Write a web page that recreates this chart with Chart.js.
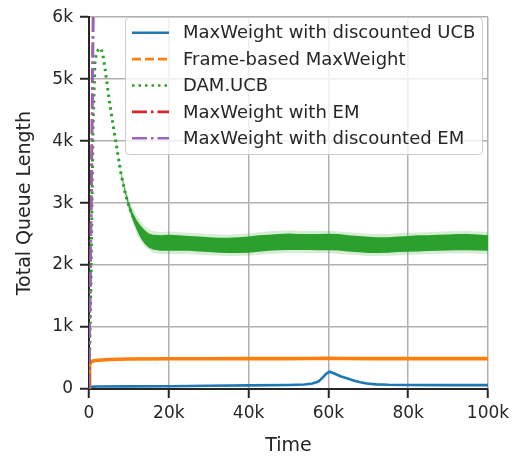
<!DOCTYPE html>
<html>
<head>
<meta charset="utf-8">
<script src="https://cdn.jsdelivr.net/npm/chart.js@4/dist/chart.umd.min.js"></script>
<style>
  html, body { margin: 0; padding: 0; background: #ffffff; }
  #wrap { width: 525px; height: 460px; }
</style>
</head>
<body>
<div id="wrap"><canvas id="chart" width="525" height="460"></canvas></div>
<script>
// ---- axis ticks ----
const xTickValues = [0, 20000, 40000, 60000, 80000, 100000];
const xTickLabels = ['0', '20k', '40k', '60k', '80k', '100k'];
const yTickValues = [0, 1000, 2000, 3000, 4000, 5000, 6000];
const yTickLabels = ['0', '1k', '2k', '3k', '4k', '5k', '6k'];

// ---- series names ----
const seriesNames = [
  'MaxWeight with discounted UCB',
  'Frame-based MaxWeight',
  'DAM.UCB',
  'MaxWeight with EM',
  'MaxWeight with discounted EM'
];

// ---- MaxWeight with discounted UCB ----
const ucbTime = [0, 300, 2000, 10000, 20000, 30000, 40000, 50000, 54000, 56000, 57500, 58500, 59500, 60300, 61500, 63000, 64600, 66500, 68000, 69600, 72000, 75000, 80000, 90000, 100000];
const ucbQueue = [0, 35, 40, 42, 45, 52, 58, 65, 72, 88, 120, 180, 250, 278, 250, 205, 172, 135, 108, 90, 75, 68, 64, 62, 62];

// ---- Frame-based MaxWeight ----
const frameTime = [0, 150, 400, 1500, 5000, 10000, 20000, 30000, 40000, 50000, 55000, 60000, 65000, 70000, 80000, 90000, 100000];
const frameQueue = [0, 380, 440, 460, 475, 485, 488, 487, 490, 490, 492, 495, 493, 490, 490, 490, 490];

// ---- DAM.UCB (mean) ----
const damTime = [0, 500, 1000, 1500, 2000, 2500, 3000, 3500, 4000, 5000, 6000, 7000, 8000, 9000, 10000, 11000, 12000, 13000, 14000, 16000, 18000, 20000, 25000, 30000, 35000, 40000, 45000, 50000, 55000, 60000, 65000, 70000, 75000, 80000, 85000, 90000, 95000, 100000];
const damQueue = [0, 1800, 4200, 5300, 5450, 5480, 5500, 5380, 5180, 4700, 4270, 3880, 3480, 3180, 2950, 2780, 2640, 2530, 2450, 2370, 2350, 2360, 2350, 2330, 2320, 2330, 2370, 2390, 2380, 2390, 2360, 2330, 2320, 2350, 2350, 2370, 2380, 2360];

// ---- DAM.UCB spread of the noisy trace ----
const damBandTime = [8000, 9000, 10000, 11000, 12000, 13000, 14000, 15000, 16000, 18000, 20000, 22500, 25000, 27500, 30000, 32500, 35000, 37500, 40000, 42500, 45000, 47500, 50000, 52500, 55000, 57500, 60000, 62500, 65000, 67500, 70000, 72500, 75000, 77500, 80000, 82500, 85000, 87500, 90000, 92500, 95000, 97500, 100000];
const damBandHigh = [3500, 3230, 3000, 2840, 2720, 2630, 2560, 2510, 2490, 2480, 2490, 2480, 2470, 2460, 2450, 2440, 2440, 2450, 2460, 2480, 2490, 2500, 2510, 2500, 2500, 2500, 2505, 2500, 2480, 2470, 2455, 2450, 2450, 2460, 2470, 2480, 2480, 2490, 2495, 2500, 2500, 2495, 2480];
const damBandLow = [3460, 3170, 2920, 2720, 2560, 2430, 2340, 2280, 2250, 2230, 2230, 2230, 2230, 2220, 2210, 2200, 2195, 2195, 2200, 2215, 2230, 2240, 2245, 2245, 2245, 2240, 2240, 2235, 2220, 2205, 2195, 2195, 2200, 2210, 2215, 2220, 2225, 2230, 2235, 2240, 2240, 2235, 2230];

// ---- DAM.UCB confidence interval ----
const damCiTime = [6000, 8000, 10000, 12000, 14000, 16000, 18000, 20000, 25000, 30000, 35000, 40000, 45000, 50000, 55000, 60000, 65000, 70000, 75000, 80000, 85000, 90000, 95000, 100000];
const damCiHigh = [4300, 3540, 3060, 2790, 2620, 2550, 2530, 2540, 2520, 2500, 2490, 2510, 2545, 2560, 2550, 2555, 2530, 2505, 2500, 2520, 2530, 2545, 2550, 2535];
const damCiLow = [4240, 3420, 2860, 2490, 2290, 2200, 2180, 2180, 2180, 2160, 2145, 2150, 2180, 2195, 2195, 2190, 2170, 2145, 2150, 2165, 2175, 2185, 2190, 2180];

// ---- MaxWeight with EM ----
const emTime = [0, 600, 1000, 1500];
const emQueue = [0, 3500, 6000, 8600];

// ---- MaxWeight with discounted EM ----
const demTime = [0, 700, 1100, 1500];
const demQueue = [0, 3500, 6000, 8200];

const colors = {
  blue: '#1f77b4', orange: '#ff7f0e', green: '#2ca02c', red: '#d62728', purple: '#9467bd'
};
const fontFamily = "'DejaVu Sans', 'Liberation Sans', sans-serif";
const textColor = '#262626';

const pts = (xs, ys) => xs.map((x, i) => ({ x: x, y: ys[i] }));

const lineStyles = [
  { color: colors.blue, dash: [] },
  { color: colors.orange, dash: [9, 4] },
  { color: colors.green, dash: [2.5, 4] },
  { color: colors.red, dash: [15, 4, 2.5, 4] },
  { color: colors.purple, dash: [15, 4, 2.5, 4] }
];

const datasets = [
  // confidence band of DAM.UCB (upper edge fills down to next dataset)
  { label: 'ciHigh', data: pts(damCiTime, damCiHigh), borderWidth: 0, pointRadius: 0,
    backgroundColor: 'rgba(44,160,44,0.2)', fill: '+1', order: 8 },
  { label: 'ciLow', data: pts(damCiTime, damCiLow), borderWidth: 0, pointRadius: 0, fill: false, order: 8 },
  // spread of the noisy DAM.UCB trace
  { label: 'bandHigh', data: pts(damBandTime, damBandHigh), borderWidth: 0, pointRadius: 0,
    backgroundColor: colors.green, fill: '+1', order: 7 },
  { label: 'bandLow', data: pts(damBandTime, damBandLow), borderWidth: 0, pointRadius: 0, fill: false, order: 7 },
  { label: seriesNames[2], data: pts(damTime, damQueue), borderColor: colors.green, borderWidth: 3,
    borderDash: [2.5, 4], borderCapStyle: 'butt', pointRadius: 0, fill: false, order: 6 },
  { label: seriesNames[0], data: pts(ucbTime, ucbQueue), borderColor: colors.blue, borderWidth: 2.6,
    pointRadius: 0, fill: false, order: 10 },
  { label: seriesNames[1], data: pts(frameTime, frameQueue), borderColor: colors.orange, borderWidth: 3.6,
    pointRadius: 0, fill: false, order: 9 },
  { label: seriesNames[3], data: pts(emTime, emQueue), borderColor: colors.red, borderWidth: 2.5,
    borderDash: [15, 4, 2.5, 4], pointRadius: 0, fill: false, order: 2 },
  { label: seriesNames[4], data: pts(demTime, demQueue), borderColor: colors.purple, borderWidth: 2.5,
    borderDash: [15, 4, 2.5, 4], pointRadius: 0, fill: false, order: 1 }
];

// Framed legend inside the plot area, top right
const boxLegend = {
  id: 'boxLegend',
  afterDraw(chart) {
    const ctx = chart.ctx;
    ctx.save();
    const bx = 125.5, by = 17.5, bw = 357, bh = 137;
    ctx.beginPath();
    ctx.roundRect(bx, by, bw, bh, 4);
    ctx.fillStyle = 'rgba(255,255,255,0.8)';
    ctx.fill();
    ctx.lineWidth = 1;
    ctx.strokeStyle = '#cccccc';
    ctx.stroke();
    ctx.font = '18px ' + fontFamily;
    ctx.textBaseline = 'middle';
    ctx.textAlign = 'left';
    seriesNames.forEach((name, i) => {
      const y = 32.7 + i * 26.4;
      const st = lineStyles[i];
      ctx.beginPath();
      ctx.setLineDash(st.dash);
      ctx.lineCap = 'butt';
      ctx.lineWidth = 2.6;
      ctx.strokeStyle = st.color;
      ctx.moveTo(132, y);
      ctx.lineTo(169, y);
      ctx.stroke();
      ctx.setLineDash([]);
      ctx.fillStyle = textColor;
      ctx.fillText(name, 183, y + 1);
    });
    ctx.restore();
  }
};

const gridColor = (c) => (c.tick && c.tick.value === 0) ? 'rgba(0,0,0,0)' : '#b0b0b0';

new Chart(document.getElementById('chart'), {
  type: 'line',
  data: { datasets: datasets },
  options: {
    responsive: false,
    animation: false,
    devicePixelRatio: 1,
    layout: { padding: { left: 0, top: 15, right: 37, bottom: 0 } },
    plugins: { legend: { display: false }, tooltip: { enabled: false } },
    elements: { line: { tension: 0 } },
    scales: {
      x: {
        type: 'linear', min: 0, max: 100000,
        afterBuildTicks: (s) => { s.ticks = xTickValues.map(v => ({ value: v })); },
        afterFit: (s) => { s.height = 71; },
        ticks: {
          autoSkip: false, maxRotation: 0, padding: 5, color: textColor,
          font: { family: fontFamily, size: 17 },
          callback: (v) => xTickLabels[xTickValues.indexOf(v)]
        },
        grid: { color: gridColor, lineWidth: 1.5, tickColor: textColor, tickWidth: 2, tickLength: 9 },
        border: { display: true, color: textColor, width: 2 },
        title: { display: true, text: 'Time', color: textColor,
          font: { family: fontFamily, size: 19 }, padding: { top: 0, bottom: 3 } }
      },
      y: {
        type: 'linear', min: 0, max: 6000,
        afterBuildTicks: (s) => { s.ticks = yTickValues.map(v => ({ value: v })); },
        afterFit: (s) => { s.width = 89; },
        ticks: {
          autoSkip: false, padding: 7, color: textColor,
          font: { family: fontFamily, size: 17 },
          callback: (v) => yTickLabels[yTickValues.indexOf(v)]
        },
        grid: { color: gridColor, lineWidth: 1.5, tickColor: textColor, tickWidth: 2, tickLength: 9 },
        border: { display: true, color: textColor, width: 2 },
        title: { display: true, text: 'Total Queue Length', color: textColor,
          font: { family: fontFamily, size: 19 }, padding: { top: 14, bottom: 0 } }
      }
    }
  },
  plugins: [boxLegend]
});
</script>
</body>
</html>
